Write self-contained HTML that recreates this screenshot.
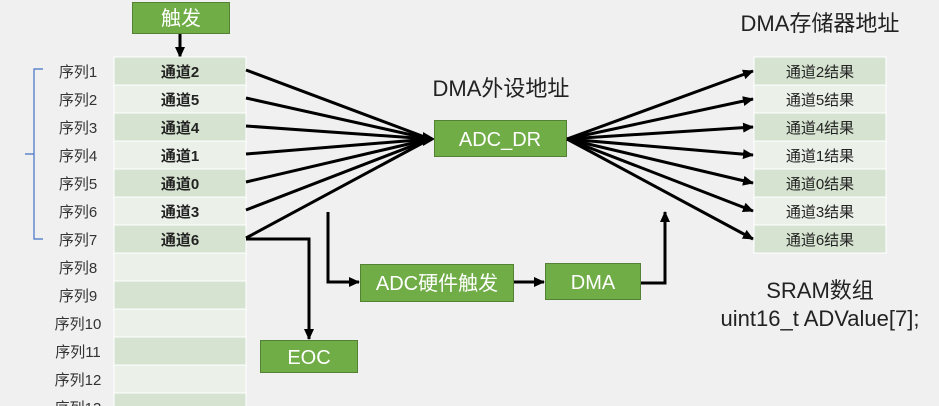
<!DOCTYPE html>
<html><head><meta charset="utf-8"><style>
body{margin:0;background:#f0f0f0;}
svg{display:block;font-family:"Liberation Sans","Noto Sans CJK SC",sans-serif;}
</style></head><body>
<svg width="939" height="406" viewBox="0 0 939 406" xmlns="http://www.w3.org/2000/svg">
<defs>
<marker id="a" markerWidth="11" markerHeight="10" refX="10" refY="5" orient="auto" markerUnits="userSpaceOnUse">
<path d="M0,0 L11,5 L0,10 z" fill="#000"/></marker>
</defs>
<rect width="939" height="406" fill="#f0f0f0"/>
<rect x="132.5" y="2.5" width="97" height="31" fill="#70ad47" stroke="#548235"/>
<text x="181" y="25" font-size="20" fill="#fff" text-anchor="middle">触发</text>
<line x1="180" y1="34" x2="180" y2="57" stroke="#000" stroke-width="3" marker-end="url(#a)"/>
<g font-size="15">
<rect x="114" y="57" width="132" height="28" fill="#d6e3d0" stroke="#fff"/>
<rect x="114" y="85" width="132" height="28" fill="#ebf0e9" stroke="#fff"/>
<rect x="114" y="113" width="132" height="28" fill="#d6e3d0" stroke="#fff"/>
<rect x="114" y="141" width="132" height="28" fill="#ebf0e9" stroke="#fff"/>
<rect x="114" y="169" width="132" height="28" fill="#d6e3d0" stroke="#fff"/>
<rect x="114" y="197" width="132" height="28" fill="#ebf0e9" stroke="#fff"/>
<rect x="114" y="225" width="132" height="28" fill="#d6e3d0" stroke="#fff"/>
<rect x="114" y="253" width="132" height="28" fill="#ebf0e9" stroke="#fff"/>
<rect x="114" y="281" width="132" height="28" fill="#d6e3d0" stroke="#fff"/>
<rect x="114" y="309" width="132" height="28" fill="#ebf0e9" stroke="#fff"/>
<rect x="114" y="337" width="132" height="28" fill="#d6e3d0" stroke="#fff"/>
<rect x="114" y="365" width="132" height="28" fill="#ebf0e9" stroke="#fff"/>
<rect x="114" y="393" width="132" height="28" fill="#d6e3d0" stroke="#fff"/>
<g text-anchor="middle" font-weight="bold" fill="#222">
<text x="180" y="77">通道2</text><text x="180" y="105">通道5</text><text x="180" y="133">通道4</text>
<text x="180" y="161">通道1</text><text x="180" y="189">通道0</text><text x="180" y="217">通道3</text>
<text x="180" y="245">通道6</text>
</g>
<g text-anchor="middle" fill="#333">
<text x="78" y="77">序列1</text><text x="78" y="105">序列2</text><text x="78" y="133">序列3</text>
<text x="78" y="161">序列4</text><text x="78" y="189">序列5</text><text x="78" y="217">序列6</text>
<text x="78" y="245">序列7</text><text x="78" y="273">序列8</text><text x="78" y="301">序列9</text>
<text x="78" y="329">序列10</text><text x="78" y="357">序列11</text><text x="78" y="385">序列12</text>
<text x="78" y="413">序列13</text>
</g>
</g>
<path d="M43,69 H34 V154 H25 M34,154 V239 H43" fill="none" stroke="#4472c4" stroke-width="1.2"/>
<g stroke="#000" stroke-width="3">
<line x1="246" y1="70" x2="430" y2="139"/><line x1="246" y1="98" x2="430" y2="139"/>
<line x1="246" y1="126" x2="430" y2="139"/><line x1="246" y1="154" x2="430" y2="139"/>
<line x1="246" y1="182" x2="430" y2="139"/><line x1="246" y1="210" x2="430" y2="139"/>
<line x1="246" y1="238" x2="430" y2="139"/>
</g>
<path d="M423,132 L435,139 L423,146 z" fill="#000"/>
<rect x="434.5" y="120.5" width="132" height="36" fill="#70ad47" stroke="#548235"/>
<text x="500" y="146" font-size="20" fill="#fff" text-anchor="middle">ADC_DR</text>
<text x="501" y="96" font-size="22" fill="#222" text-anchor="middle">DMA外设地址</text>
<g stroke="#000" stroke-width="3" marker-end="url(#a)">
<line x1="567" y1="139" x2="753" y2="71"/><line x1="567" y1="139" x2="753" y2="99"/>
<line x1="567" y1="139" x2="753" y2="127"/><line x1="567" y1="139" x2="753" y2="155"/>
<line x1="567" y1="139" x2="753" y2="183"/><line x1="567" y1="139" x2="753" y2="211"/>
<line x1="567" y1="139" x2="753" y2="239"/>
</g>
<g font-size="15">
<rect x="754" y="57" width="132" height="28" fill="#d6e3d0" stroke="#fff"/>
<rect x="754" y="85" width="132" height="28" fill="#ebf0e9" stroke="#fff"/>
<rect x="754" y="113" width="132" height="28" fill="#d6e3d0" stroke="#fff"/>
<rect x="754" y="141" width="132" height="28" fill="#ebf0e9" stroke="#fff"/>
<rect x="754" y="169" width="132" height="28" fill="#d6e3d0" stroke="#fff"/>
<rect x="754" y="197" width="132" height="28" fill="#ebf0e9" stroke="#fff"/>
<rect x="754" y="225" width="132" height="28" fill="#d6e3d0" stroke="#fff"/>
<g text-anchor="middle" fill="#222">
<text x="820" y="77">通道2结果</text><text x="820" y="105">通道5结果</text><text x="820" y="133">通道4结果</text>
<text x="820" y="161">通道1结果</text><text x="820" y="189">通道0结果</text><text x="820" y="217">通道3结果</text>
<text x="820" y="245">通道6结果</text>
</g>
</g>
<text x="820" y="31" font-size="22" fill="#222" text-anchor="middle">DMA存储器地址</text>
<text x="820" y="298" font-size="22" fill="#222" text-anchor="middle">SRAM数组</text>
<text x="820" y="326" font-size="22" fill="#222" text-anchor="middle">uint16_t ADValue[7];</text>
<g stroke="#000" stroke-width="3" fill="none">
<path d="M246,239 H309 V339" marker-end="url(#a)"/>
<path d="M328,212 V282 H359" marker-end="url(#a)"/>
<path d="M514,282 H544" marker-end="url(#a)"/>
<path d="M640,283 H665 V212" marker-end="url(#a)"/>
</g>
<rect x="360.5" y="264.5" width="153" height="37" fill="#70ad47" stroke="#548235"/>
<text x="437" y="290" font-size="20" fill="#fff" text-anchor="middle">ADC硬件触发</text>
<rect x="545.5" y="263.5" width="95" height="36" fill="#70ad47" stroke="#548235"/>
<text x="593" y="289" font-size="20" fill="#fff" text-anchor="middle">DMA</text>
<rect x="260.5" y="340.5" width="97" height="32" fill="#70ad47" stroke="#548235"/>
<text x="309" y="364" font-size="20" fill="#fff" text-anchor="middle">EOC</text>
</svg>
</body></html>
